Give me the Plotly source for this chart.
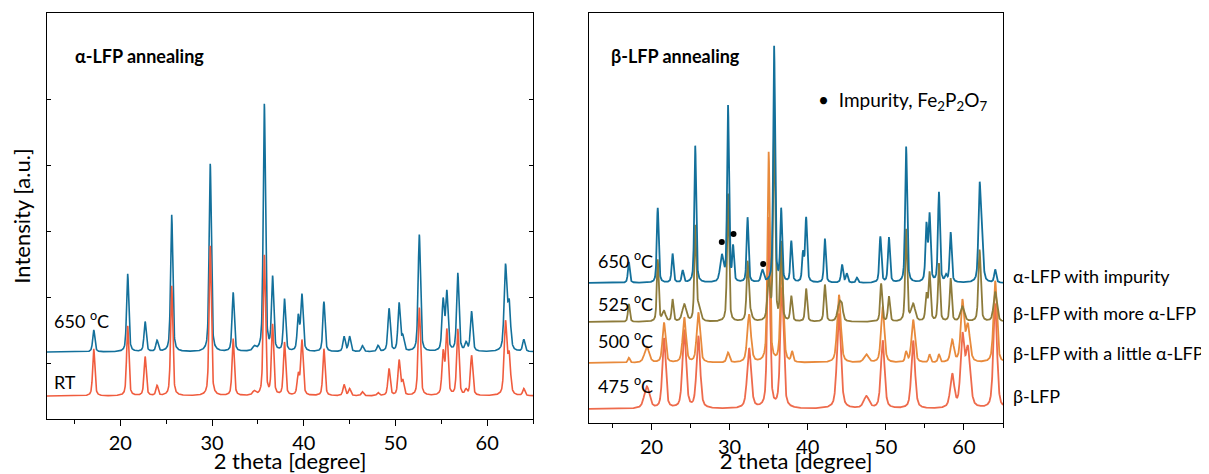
import numpy as np
import plotly.graph_objects as go

# 2-theta grid shared by every pattern
TWO_THETA = np.arange(12.0, 65.001, 0.02)

# ---- alpha-LFP annealing (left panel), intensities in a.u. ----
# each peak: (2theta, height above background, fwhm)
RT_BACKGROUND = 23
RT_PEAKS = [
    (17.1, 47, 0.28), (20.8, 70, 0.28), (22.7, 39, 0.28), (24.0, 10, 0.28),
    (25.6, 110, 0.28), (29.8, 150, 0.28), (32.3, 57, 0.28), (34.6, 4, 0.4),
    (35.7, 140, 0.28), (36.6, 70, 0.28), (37.9, 53, 0.28), (39.4, 20, 0.28),
    (39.8, 55, 0.3), (42.2, 47, 0.28), (44.4, 11, 0.3), (45.0, 7, 0.3),
    (46.4, 4, 0.3), (48.1, 3, 0.3), (49.3, 27, 0.3), (50.4, 35, 0.3),
    (50.8, 14, 0.3), (52.6, 88, 0.3), (55.2, 42, 0.3), (55.6, 64, 0.3),
    (56.8, 66, 0.3), (57.7, 5, 0.3), (58.3, 40, 0.3), (62.0, 72, 0.35),
    (62.4, 38, 0.35), (64.0, 7, 0.3),
]

A650_BACKGROUND = 67
A650_PEAKS = [
    (17.1, 22, 0.28), (20.8, 78, 0.28), (22.7, 30, 0.28), (24.0, 11, 0.3),
    (25.6, 137, 0.28), (29.8, 188, 0.28), (32.3, 59, 0.28), (34.6, 4, 0.4),
    (35.7, 247, 0.28), (36.6, 73, 0.28), (37.9, 52, 0.28), (39.4, 34, 0.28),
    (39.8, 56, 0.3), (42.2, 50, 0.28), (44.4, 15, 0.3), (45.0, 15, 0.3),
    (46.4, 6, 0.3), (48.1, 6, 0.3), (49.3, 43, 0.3), (50.4, 48, 0.3),
    (50.8, 14, 0.3), (52.6, 117, 0.3), (55.2, 50, 0.3), (55.6, 58, 0.3),
    (56.8, 78, 0.3), (57.7, 8, 0.3), (58.3, 40, 0.3), (62.0, 84, 0.35),
    (62.4, 45, 0.35), (64.0, 12, 0.3),
]

# ---- beta-LFP annealing (right panel), intensities in a.u. ----
B475_BACKGROUND = 14
B475_PEAKS = [
    (19.4, 22, 0.8), (21.6, 70, 0.5), (24.2, 78, 0.55), (26.0, 72, 0.55),
    (32.5, 60, 0.6), (35.0, 190, 0.4), (36.7, 120, 0.5), (44.0, 95, 0.6),
    (47.5, 12, 0.8), (49.6, 68, 0.55), (53.5, 68, 0.55), (58.5, 33, 0.6),
    (59.8, 68, 0.55), (60.5, 58, 0.7), (64.0, 105, 0.55),
]

B500_BACKGROUND = 60
B500_PEAKS = [
    (17.1, 5, 0.3), (19.4, 16, 0.7), (21.6, 40, 0.45), (24.2, 45, 0.5),
    (26.0, 50, 0.5), (29.8, 10, 0.4), (32.5, 48, 0.55), (35.0, 210, 0.35),
    (36.7, 100, 0.45), (38.0, 10, 0.3), (44.0, 68, 0.55), (47.5, 8, 0.7),
    (49.6, 56, 0.5), (52.6, 10, 0.3), (53.5, 43, 0.5), (55.6, 8, 0.3),
    (56.8, 8, 0.3), (58.5, 22, 0.5), (59.8, 60, 0.5), (60.5, 36, 0.6),
    (64.0, 82, 0.5),
]

B525_BACKGROUND = 101
B525_PEAKS = [
    (17.1, 18, 0.28), (20.8, 62, 0.28), (21.6, 10, 0.5), (22.7, 22, 0.28),
    (24.2, 17, 0.6), (25.6, 92, 0.28), (26.0, 14, 0.6), (29.8, 128, 0.3),
    (32.3, 52, 0.3), (32.5, 12, 0.6), (35.0, 40, 0.4), (35.7, 195, 0.3),
    (36.6, 78, 0.3), (37.9, 25, 0.3), (39.8, 33, 0.3), (42.2, 37, 0.3),
    (44.1, 20, 0.6), (44.4, 8, 0.3), (49.4, 38, 0.3), (50.4, 25, 0.3),
    (52.6, 92, 0.3), (53.5, 17, 0.6), (55.2, 26, 0.3), (55.6, 48, 0.3),
    (56.8, 58, 0.3), (58.3, 43, 0.3), (59.8, 15, 0.6), (62.0, 72, 0.35),
    (64.0, 30, 0.5),
]

B650_BACKGROUND = 140
B650_PEAKS = [
    (17.1, 21, 0.28), (20.8, 75, 0.28), (22.7, 29, 0.28), (24.0, 12, 0.3),
    (25.6, 137, 0.28), (29.0, 26, 0.5), (29.8, 176, 0.28), (30.45, 34, 0.25),
    (32.3, 65, 0.28), (34.2, 12, 0.4), (35.7, 236, 0.28), (36.6, 72, 0.28),
    (37.9, 41, 0.28), (39.4, 28, 0.28), (39.8, 64, 0.3), (42.2, 44, 0.28),
    (44.4, 18, 0.3), (45.0, 9, 0.3), (46.3, 5, 0.3), (49.3, 46, 0.3),
    (50.4, 45, 0.3), (52.6, 136, 0.3), (55.2, 56, 0.3), (55.6, 66, 0.3),
    (56.8, 90, 0.3), (57.7, 6, 0.3), (58.3, 50, 0.3), (62.0, 92, 0.35),
    (62.3, 45, 0.35), (64.0, 13, 0.3),
]

# Fe2P2O7 impurity reflections marked on the 650 C pattern
IMPURITY_2THETA = [29.0, 30.5, 34.3]
IMPURITY_MARK = [181, 189, 159]

LEFT_YTICKS = [56, 122, 188, 254, 320]

BLUE = '#13709b'
RED = '#f05c3e'
SALMON = '#ee6b4c'
ORANGE = '#e88a3c'
OLIVE = '#8d7b3b'
FONT = 'Lato'

# the page body adds an 8 px margin, so the figure is a little smaller than the window
W, H, OFF = 1201, 466, 8


def pattern(background, peaks):
    y = np.full_like(TWO_THETA, float(background))
    for pos, h, w in peaks:
        d = (TWO_THETA - pos) / w
        y += h * (0.5 * np.exp(-4 * np.log(2) * d ** 2) + 0.5 / (1 + 4 * d ** 2))
    return y


def px_x(px):
    return (px - OFF) / W


def px_y(py):
    return 1 - (py - OFF) / H


fig = go.Figure()

# left panel
fig.add_trace(go.Scatter(x=TWO_THETA, y=pattern(A650_BACKGROUND, A650_PEAKS), mode='lines',
                         line=dict(color=BLUE, width=1.6), xaxis='x', yaxis='y'))
fig.add_trace(go.Scatter(x=TWO_THETA, y=pattern(RT_BACKGROUND, RT_PEAKS), mode='lines',
                         line=dict(color=RED, width=1.6), xaxis='x', yaxis='y'))

# right panel
for bg, pk, col in [(B475_BACKGROUND, B475_PEAKS, SALMON),
                    (B500_BACKGROUND, B500_PEAKS, ORANGE),
                    (B525_BACKGROUND, B525_PEAKS, OLIVE),
                    (B650_BACKGROUND, B650_PEAKS, BLUE)]:
    fig.add_trace(go.Scatter(x=TWO_THETA, y=pattern(bg, pk), mode='lines',
                             line=dict(color=col, width=1.8), xaxis='x2', yaxis='y2'))

fig.add_trace(go.Scatter(x=IMPURITY_2THETA, y=IMPURITY_MARK, mode='markers',
                         marker=dict(color='black', size=6), xaxis='x2', yaxis='y2'))

xcommon = dict(range=[12, 65], showline=True, linecolor='black', linewidth=1.2, mirror=True,
               ticks='outside', tick0=0, dtick=10, ticklen=6, tickcolor='black',
               tickfont=dict(family=FONT, size=20, color='black'),
               minor=dict(dtick=5, ticks='outside', ticklen=4, tickcolor='black'),
               showgrid=False, zeroline=False, automargin=False,
               title=dict(text='2 theta [degree]', font=dict(family=FONT, size=22, color='black'),
                          standoff=3))

fig.update_layout(
    width=W, height=H,
    margin=dict(l=0, r=0, t=0, b=0, pad=0, autoexpand=False),
    paper_bgcolor='white', plot_bgcolor='white',
    showlegend=False,
    xaxis=dict(domain=[px_x(47), px_x(533)], anchor='y', **xcommon),
    yaxis=dict(domain=[px_y(419), px_y(13)], anchor='x', range=[0, 406],
               showline=True, linecolor='black', linewidth=1.2, mirror='ticks',
               ticks='inside', tickvals=LEFT_YTICKS, ticklen=4, tickcolor='black',
               showticklabels=False, showgrid=False, zeroline=False, automargin=False,
               title=dict(text='Intensity [a.u.]', font=dict(family=FONT, size=22, color='black'),
                          standoff=10)),
    xaxis2=dict(domain=[px_x(589), px_x(1003)], anchor='y2', **xcommon),
    yaxis2=dict(domain=[px_y(423), px_y(13)], anchor='x2', range=[0, 410],
                showline=True, linecolor='black', linewidth=1.2, mirror=True, automargin=False,
                ticks='', showticklabels=False, showgrid=False, zeroline=False),
)

labels = [
    (73, 56, '<b>α-LFP annealing</b>', 18),
    (52, 320, '650 <sup>o</sup>C', 18),
    (52, 382, 'RT', 18),
    (609, 56, '<b>β-LFP annealing</b>', 18),
    (816, 101, '•  Impurity, Fe<sub>2</sub>P<sub>2</sub>O<sub>7</sub>', 19),
    (596, 260, '650 <sup>o</sup>C', 18),
    (596, 303, '525 <sup>o</sup>C', 18),
    (596, 340, '500 <sup>o</sup>C', 18),
    (596, 385, '475 <sup>o</sup>C', 18),
    (1011, 276, 'α-LFP with impurity', 18),
    (1011, 313, 'β-LFP with more α-LFP', 18),
    (1011, 353, 'β-LFP with a little α-LFP', 18),
    (1011, 396, 'β-LFP', 18),
]
for px, py, txt, size in labels:
    fig.add_annotation(x=px_x(px), y=px_y(py), xref='paper', yref='paper',
                       xanchor='left', yanchor='middle', showarrow=False, text=txt,
                       font=dict(family=FONT, size=size, color='black'))

fig.write_html('out.html')
